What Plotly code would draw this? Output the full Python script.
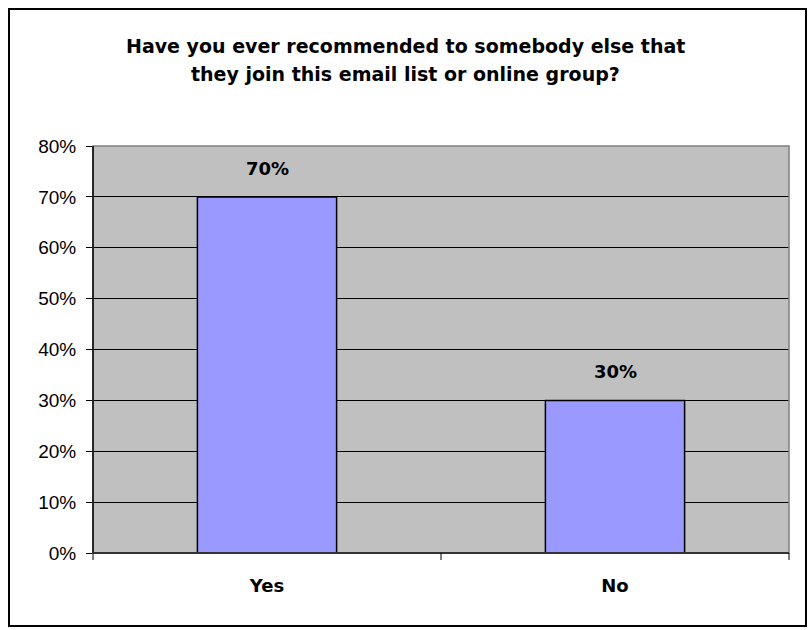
import plotly.graph_objects as go

categories = ["Yes", "No"]
values = [0.70, 0.30]
labels = ["70%", "30%"]
title_lines = ["Have you ever recommended to somebody else that",
               "they join this email list or online group?"]

W, H = 811, 630
L, R, T, B = 93, 22, 146, 77
pw, ph = W - L - R, H - T - B
BOLD = dict(family="DejaVu Sans", size=18, color="black", weight="bold")
TITLE = dict(family="DejaVu Sans", size=19, color="black", weight="bold")

fig = go.Figure()
fig.add_trace(go.Bar(
    x=categories, y=values,
    marker=dict(color="#9999FF", line=dict(color="black", width=1.5)),
    width=0.4, hoverinfo="skip",
))

for c, v, t in zip(categories, values, labels):
    fig.add_annotation(x=c, y=v, text=t, showarrow=False, yanchor="bottom",
                       yshift=16, font=BOLD)

for i, line in enumerate(title_lines):
    fig.add_annotation(xref="paper", yref="paper", x=(405 - L) / pw,
                       y=1 + (T - (46 + 28 * i)) / ph, text=line,
                       showarrow=False, xanchor="center", yanchor="middle",
                       font=TITLE)

fig.update_layout(
    width=W, height=H,
    margin=dict(l=L, r=R, t=T, b=B),
    paper_bgcolor="white", plot_bgcolor="#C0C0C0",
    showlegend=False,
    font=dict(family="Liberation Sans, Arial", color="black"),
    xaxis=dict(showgrid=False, showline=False,
               ticks="", tickfont=BOLD, ticklabelstandoff=20,
               range=[-0.5, 1.5], fixedrange=True),
    yaxis=dict(range=[0, 0.8], dtick=0.1, tickformat=".0%",
               showgrid=True, gridcolor="black", gridwidth=1,
               showline=False,
               ticks="outside", ticklen=6, tickcolor="black",
               ticklabelstandoff=6,
               tickfont=dict(family="Liberation Sans, Arial", size=19, color="black"),
               zeroline=False),
    bargap=0.6,
)

# plot area border (grey)
fig.add_shape(type="rect", xref="paper", yref="paper", x0=0, x1=1, y0=0, y1=1,
              line=dict(color="#808080", width=1.5), layer="above")
# y axis & x axis dark lines
fig.add_shape(type="line", xref="paper", yref="paper", x0=0, x1=0, y0=0, y1=1,
              line=dict(color="black", width=1.5))
fig.add_shape(type="line", xref="paper", yref="paper", x0=0, x1=1, y0=0, y1=0,
              line=dict(color="#333333", width=2))
# category boundary ticks on x axis
for xb in [0, 0.5, 1]:
    fig.add_shape(type="line", xref="paper", yref="paper", x0=xb, x1=xb,
                  y0=0, y1=-7 / ph, line=dict(color="black", width=1))

# outer chart border
fig.add_shape(type="rect", xref="paper", yref="paper",
              x0=(9 - L) / pw, x1=(806 - L) / pw,
              y0=-(626 - (T + ph)) / ph, y1=1 + (T - 9) / ph,
              line=dict(color="black", width=2))

fig.write_html("out.html")
